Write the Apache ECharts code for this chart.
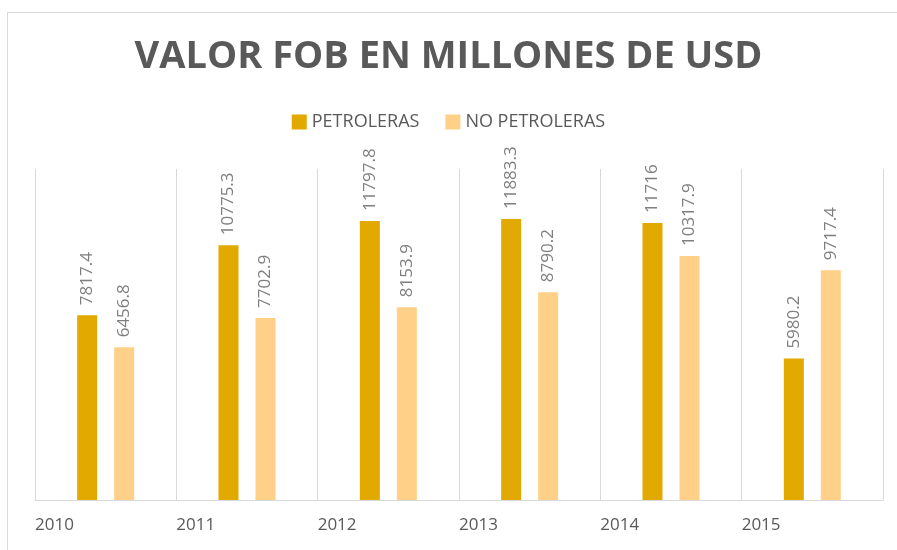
<!DOCTYPE html>
<html><head><meta charset="utf-8">
<script src="https://cdn.jsdelivr.net/npm/echarts@6/dist/echarts.min.js"></script>
<style>html,body{margin:0;padding:0;background:#fff}#c{width:897px;height:550px}</style>
</head><body><div id="c"></div>
<script>
const years = ['2010','2011','2012','2013','2014','2015'];
const petroleras = [7817.4, 10775.3, 11797.8, 11883.3, 11716, 5980.2];
const noPetroleras = [6456.8, 7702.9, 8153.9, 8790.2, 10317.9, 9717.4];
const tickLabels = ['2010','2011','2012','2013','2014','2015',''];

const chart = echarts.init(document.getElementById('c'));
const lbl = {show:true, position:'top', rotate:90, align:'left', verticalAlign:'middle', distance:10,
  color:'#7f7f7f', fontSize:17, fontFamily:'Open Sans'};
chart.setOption({
  animation:false,
  graphic:[{type:'rect', shape:{x:7.5,y:12.5,width:895,height:545}, style:{fill:'none', stroke:'#d9d9d9', lineWidth:1}, silent:true}],
  title:{text:'VALOR FOB EN MILLONES DE USD', left:'center', top:33,
    textStyle:{fontSize:38, fontWeight:'bold', color:'#595959', fontFamily:'Open Sans'}},
  legend:{top:108, left:'center', itemWidth:15, itemHeight:15, itemGap:26, icon:'rect',
    textStyle:{fontSize:18, color:'#595959', fontFamily:'Open Sans'}},
  grid:{left:35, right:14, top:169, bottom:50},
  xAxis:[
    {type:'category', data:years, boundaryGap:true,
     axisLine:{lineStyle:{color:'#d9d9d9', width:1}}, axisTick:{show:false}, axisLabel:{show:false},
     splitLine:{show:true, lineStyle:{color:'#d9d9d9', width:1}}},
    {type:'category', data:tickLabels, boundaryGap:false, position:'bottom',
     axisLine:{show:false}, axisTick:{show:false}, splitLine:{show:false},
     axisLabel:{show:true, interval:0, align:'left', margin:17, color:'#595959', fontSize:17, fontFamily:'Open Sans'}}
  ],
  yAxis:{type:'value', min:0, max:14000, show:false, splitLine:{show:false}},
  series:[
    {name:'PETROLERAS', type:'bar', data:petroleras, barWidth:20, barGap:'85%', itemStyle:{color:'#E2A900'}, label:lbl},
    {name:'NO PETROLERAS', type:'bar', data:noPetroleras, barWidth:20, itemStyle:{color:'#FFD088'}, label:lbl}
  ]
});
</script></body></html>
